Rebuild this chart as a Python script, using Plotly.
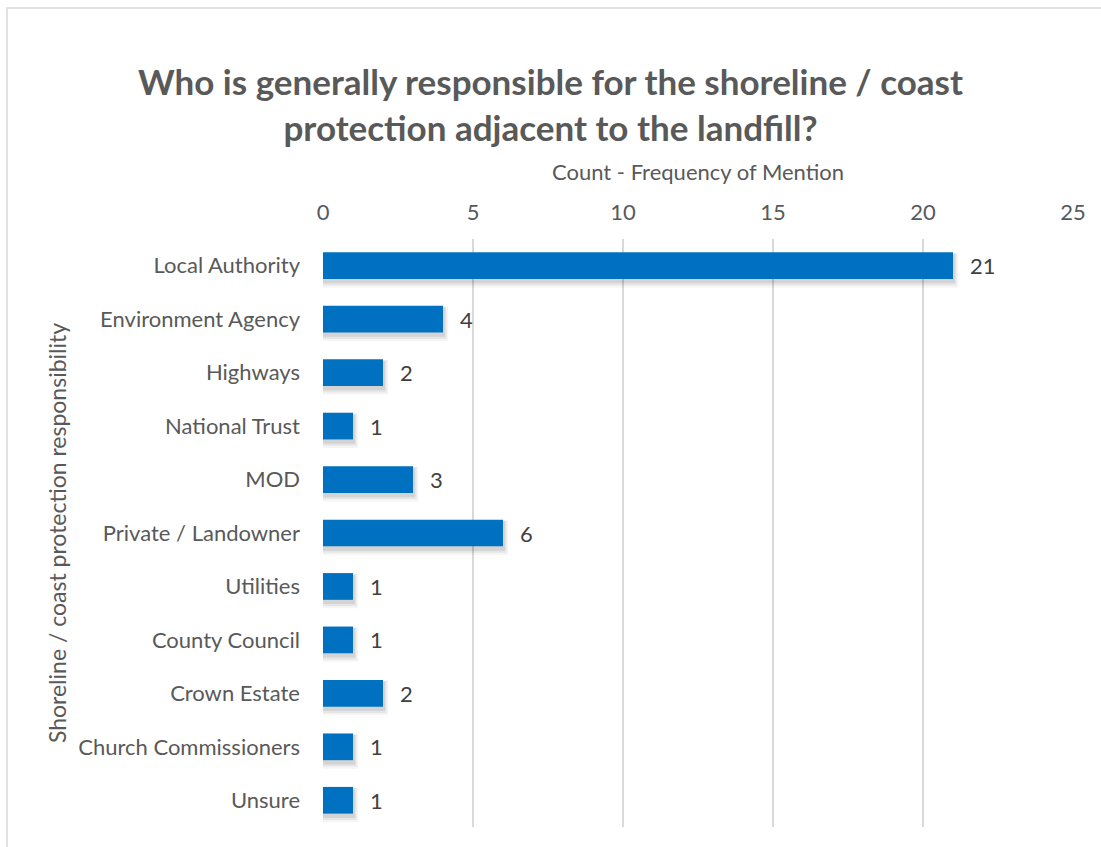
import plotly.graph_objects as go

# Survey responses: who is responsible for shoreline / coast protection
categories = [
    "Local Authority", "Environment Agency", "Highways", "National Trust", "MOD",
    "Private / Landowner", "Utilities", "County Council", "Crown Estate",
    "Church Commissioners", "Unsure",
]
counts = [21, 4, 2, 1, 3, 6, 1, 1, 2, 1, 1]
x_ticks = [0, 5, 10, 15, 20, 25]

FONT = "Lato, 'Open Sans', sans-serif"
BAR_COLOR = "#0070C0"
TEXT_GREY = "#595959"

W, H = 1101, 847
M_L, M_R, M_T, M_B = 323, 28, 239, 20
PW, PH = W - M_L - M_R, H - M_T - M_B

fig = go.Figure()

# soft drop shadow beneath each bar (layered translucent copies)
for i, (dx, alpha) in enumerate([(0.17, 0.04), (0.12, 0.06), (0.07, 0.08)]):
    fig.add_trace(go.Bar(
        x=[c + dx for c in counts], y=categories, orientation="h",
        width=0.5 + 0.05 * (3 - i), offset=-0.25 + 0.04 - 0.01 * (3 - i),
        marker=dict(color=f"rgba(0,0,0,{alpha})", line=dict(width=0)),
        hoverinfo="skip", showlegend=False,
    ))

fig.add_trace(go.Bar(
    x=counts, y=categories, orientation="h", width=0.5, offset=-0.25,
    marker=dict(color=BAR_COLOR, line=dict(width=0)),
    showlegend=False,
))

# value labels to the right of each bar
annotations = [
    dict(x=c, y=cat, xref="x", yref="y", text=str(c), showarrow=False,
         xanchor="left", yanchor="middle", xshift=15,
         font=dict(family=FONT, size=22, color="#404040"))
    for cat, c in zip(categories, counts)
]


def px_x(p):
    return (p - M_L) / PW


def px_y(p):
    return (H - M_B - p) / PH


fig.update_layout(
    width=W, height=H,
    margin=dict(l=M_L, r=M_R, t=M_T, b=M_B),
    paper_bgcolor="white", plot_bgcolor="white",
    barmode="overlay", bargap=0.5,
    font=dict(family=FONT, color=TEXT_GREY, size=22),
    title=dict(
        text="Who is generally responsible for the shoreline / coast<br>protection adjacent to the landfill?",
        x=0.5, xanchor="center", y=1 - 95 / H, yanchor="top",
        font=dict(family=FONT, size=35, color=TEXT_GREY, weight="bold"),
    ),
    xaxis=dict(
        side="top", range=[0, 25], tickvals=x_ticks,
        showgrid=True, gridcolor="#D9D9D9", gridwidth=1.5,
        zeroline=False, showline=False, ticks="",
        ticklabelstandoff=14,
        tickfont=dict(family=FONT, size=22, color=TEXT_GREY),
        title=dict(text="Count - Frequency of Mention", standoff=10,
                   font=dict(family=FONT, size=22, color=TEXT_GREY)),
    ),
    yaxis=dict(
        autorange="reversed", showgrid=False, showline=False, ticks="",
        ticklabelstandoff=22,
        tickfont=dict(family=FONT, size=22, color=TEXT_GREY),
        title=dict(text="Shoreline / coast protection responsibility", standoff=5,
                   font=dict(family=FONT, size=23, color=TEXT_GREY)),
    ),
    annotations=annotations,
    shapes=[dict(
        type="rect", xref="paper", yref="paper", layer="below",
        x0=px_x(7), x1=px_x(W + 5), y0=px_y(H + 5), y1=px_y(8),
        line=dict(color="#D9D9D9", width=1.5), fillcolor="rgba(0,0,0,0)",
    )],
)

fig.write_html("out.html")
